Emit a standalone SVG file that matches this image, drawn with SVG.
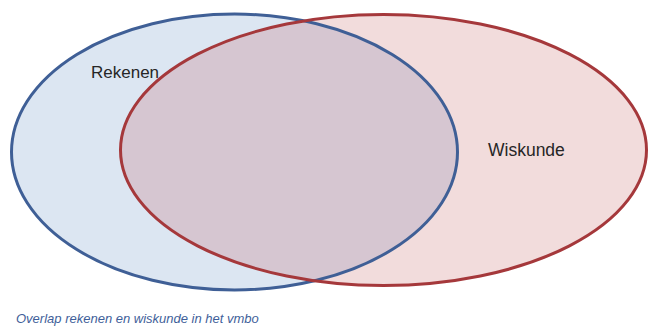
<svg xmlns="http://www.w3.org/2000/svg" width="651" height="329" viewBox="0 0 651 329">
<style>
.lbl{font-family:"Liberation Sans",Arial,sans-serif;fill:#262626}
.cap{font-family:"Liberation Sans",Arial,sans-serif;font-style:italic;fill:#3f5f9a;font-size:13px}
</style>
<defs>
<clipPath id="clipBlue"><ellipse cx="234.5" cy="152" rx="223" ry="138"/></clipPath>
</defs>
<rect width="651" height="329" fill="#ffffff"/>
<g id="rekenen">
<ellipse cx="234.5" cy="152" rx="223" ry="138" fill="#dce6f2"/>
</g>
<g id="wiskunde">
<ellipse cx="383.5" cy="150" rx="263" ry="135.5" fill="#f2dcdc"/>
</g>
<g id="overlap">
<ellipse cx="383.5" cy="150" rx="263" ry="135.5" fill="#d6c6d1" clip-path="url(#clipBlue)"/>
</g>
<g id="outlines" fill="none" stroke-width="3">
<ellipse cx="234.5" cy="152" rx="223" ry="138" stroke="#3f5f96"/>
<ellipse cx="383.5" cy="150" rx="263" ry="135.5" stroke="#a5383b"/>
</g>
<text class="lbl" x="91" y="78" font-size="17">Rekenen</text>
<text class="lbl" x="488" y="156" font-size="17.5">Wiskunde</text>
<text class="cap" x="16" y="323">Overlap rekenen en wiskunde in het vmbo</text>
</svg>
